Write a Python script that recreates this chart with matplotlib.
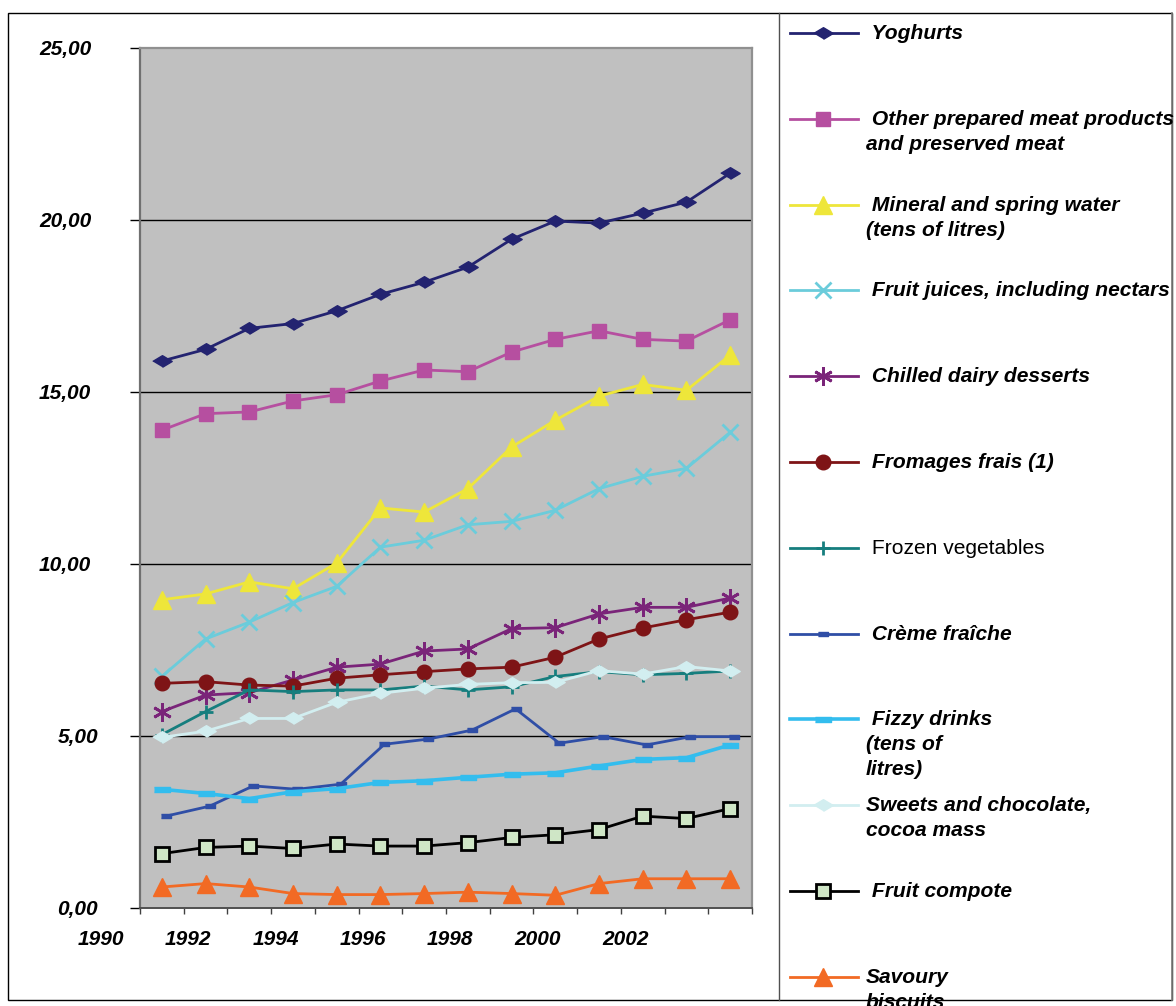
import matplotlib
matplotlib.use("Agg")
import matplotlib.pyplot as plt
from matplotlib.lines import Line2D
from matplotlib.patches import Rectangle
import matplotlib.transforms as mtransforms

# Data (14 yearly points, 1991-2004)
years = list(range(1991, 2005))
year_labels = ['1990', '1992', '1994', '1996', '1998', '2000', '2002']
y_ticks = [0, 5, 10, 15, 20, 25]
y_tick_labels = ['0,00', '5,00', '10,00', '15,00', '20,00', '25,00']

yoghurts = [15.90, 16.24, 16.85, 16.99, 17.36, 17.84, 18.19, 18.63, 19.44, 19.97, 19.91, 20.20, 20.52, 21.36]
meat = [13.89, 14.37, 14.42, 14.74, 14.92, 15.32, 15.64, 15.59, 16.16, 16.53, 16.78, 16.53, 16.48, 17.10]
water = [8.96, 9.13, 9.48, 9.28, 10.03, 11.63, 11.51, 12.19, 13.40, 14.18, 14.88, 15.22, 15.05, 16.07]
juices = [6.73, 7.82, 8.31, 8.88, 9.35, 10.49, 10.69, 11.14, 11.24, 11.56, 12.19, 12.55, 12.78, 13.83]
chilled = [5.71, 6.19, 6.26, 6.63, 7.00, 7.09, 7.47, 7.53, 8.12, 8.15, 8.55, 8.74, 8.74, 9.01]
fromages = [6.53, 6.58, 6.48, 6.45, 6.68, 6.78, 6.87, 6.95, 7.00, 7.29, 7.82, 8.14, 8.38, 8.60]
frozen = [5.04, 5.71, 6.34, 6.29, 6.34, 6.34, 6.45, 6.34, 6.43, 6.73, 6.87, 6.78, 6.82, 6.89]
creme = [2.67, 2.96, 3.55, 3.45, 3.60, 4.76, 4.91, 5.17, 5.79, 4.79, 4.98, 4.74, 4.98, 4.98]
fizzy = [3.45, 3.33, 3.18, 3.38, 3.47, 3.65, 3.70, 3.80, 3.89, 3.93, 4.13, 4.32, 4.37, 4.74]
sweets = [4.96, 5.14, 5.51, 5.51, 5.98, 6.24, 6.39, 6.50, 6.55, 6.56, 6.90, 6.80, 7.02, 6.89]
compote = [1.58, 1.76, 1.80, 1.73, 1.86, 1.80, 1.80, 1.90, 2.05, 2.13, 2.28, 2.67, 2.60, 2.89]
savoury = [0.61, 0.71, 0.61, 0.42, 0.39, 0.39, 0.42, 0.46, 0.42, 0.37, 0.71, 0.85, 0.85, 0.85]

labels = [" Yoghurts",
          " Other prepared meat products\nand preserved meat",
          " Mineral and spring water\n(tens of litres)",
          " Fruit juices, including nectars",
          " Chilled dairy desserts",
          " Fromages frais (1)",
          " Frozen vegetables",
          " Crème fraîche",
          " Fizzy drinks\n(tens of\nlitres)",
          "Sweets and chocolate,\ncocoa mass",
          " Fruit compote",
          "Savoury\nbiscuits"]

wide_diamond = [(-1, 0), (0, 0.6), (1, 0), (0, -0.6)]
small_bar = [(-1, -0.45), (1, -0.45), (1, 0.45), (-1, 0.45)]
long_bar = [(-1, -0.3), (1, -0.3), (1, 0.3), (-1, 0.3)]

styles = [
    dict(color='#232370', marker=wide_diamond, ms=14),
    dict(color='#B64FA0', marker='s', ms=10.5),
    dict(color='#EEE63A', marker='^', ms=12.5),
    dict(color='#6BCCDB', marker='x', ms=12, mew=2),
    dict(color='#7A2479', marker=(6, 2, 0), ms=13.5, mew=2),
    dict(color='#7E1416', marker='o', ms=10.5),
    dict(color='#167E7E', marker='+', ms=10, mew=2),
    dict(color='#2F4EA6', marker=small_bar, ms=7),
    dict(color='#33BDEE', marker=long_bar, ms=12, lw=2.6),
    dict(color='#D2EEF0', marker=wide_diamond, ms=14),
    dict(color='black', marker='s', ms=10, mew=2, mfc='#CFE6C6', mec='black'),
    dict(color='#F26A24', marker='^', ms=12.5),
]
series = [yoghurts, meat, water, juices, chilled, fromages, frozen, creme,
          fizzy, sweets, compote, savoury]

W, H = 1176, 1006
fig = plt.figure(figsize=(W / 100, H / 100), dpi=100)
plt.rcParams['font.family'] = ['Liberation Sans', 'DejaVu Sans']

def fx(px):
    return px / W

def fy(py):
    return 1 - py / H

ax = fig.add_axes([fx(140), fy(908), fx(752) - fx(140), fy(48) - fy(908)])
ax.set_facecolor('#C0C0C0')

x = list(range(len(years)))
for i, (vals, st) in enumerate(zip(series, styles)):
    st = dict(st)
    lw = st.pop('lw', 2.0)
    tr = ax.transData
    if i == 7:
        # Crème fraîche is drawn slightly to the right in the original
        tr = ax.transData + mtransforms.ScaledTranslation(4 / 100, 0, fig.dpi_scale_trans)
    ax.plot(x, vals, lw=lw, transform=tr, clip_on=False, zorder=3, **st)

ax.set_xlim(-0.5, len(years) - 0.5)
ax.set_ylim(0, 25)
for v in [5, 10, 15, 20]:
    ax.axhline(v, color='black', lw=1, zorder=1)

ax.set_yticks(y_ticks)
ax.set_yticklabels(y_tick_labels, fontsize=15, fontweight='bold', fontstyle='italic')
ax.tick_params(axis='y', length=7.2, width=1, direction='out', pad=28)
for lab in ax.get_yticklabels():
    if len(lab.get_text()) == 4:
        lab.set_transform(lab.get_transform() +
                          mtransforms.ScaledTranslation(7 / 100, 0, fig.dpi_scale_trans))
ax.set_xticks([k - 0.5 for k in range(len(years) + 1)])
ax.set_xticklabels([])
ax.tick_params(axis='x', length=4.5, width=1, direction='out', color='#404040')

bt = mtransforms.blended_transform_factory(ax.transData, ax.transAxes)
for j, lab in enumerate(year_labels):
    ax.text(2 * j - 1.4, -0.037, lab, transform=bt, ha='center', va='center',
            fontsize=15, fontweight='bold', fontstyle='italic', clip_on=False)

ax.spines['left'].set_color('#707070')
ax.spines['left'].set_linewidth(1.6)
ax.spines['top'].set_color('#909090')
ax.spines['top'].set_linewidth(1.6)
ax.spines['right'].set_color('#909090')
ax.spines['right'].set_linewidth(1.6)
ax.spines['bottom'].set_color('#505050')
ax.spines['bottom'].set_linewidth(1.4)

# Outer chart border and legend box
fig.add_artist(Rectangle((fx(8), fy(1000)), fx(1172) - fx(8), fy(13) - fy(1000),
                         transform=fig.transFigure, fill=False, ec='black', lw=1))
fig.add_artist(Line2D([fx(779), fx(779)], [fy(13), fy(1000)], transform=fig.transFigure,
                      color='#505050', lw=1))
fig.add_artist(Line2D([fx(1172), fx(1172)], [fy(13), fy(1000)], transform=fig.transFigure,
                      color='#808080', lw=1.2))

# Manual legend
for i, (lab, st) in enumerate(zip(labels, styles)):
    st = dict(st)
    lw = st.pop('lw', 2.0)
    yy = 33 + 85.8 * i
    fig.add_artist(Line2D([fx(790), fx(823), fx(858)], [fy(yy)] * 3, transform=fig.transFigure,
                          markevery=[1], lw=lw, **st))
    normal = (i == 6)
    for k, line in enumerate(lab.split('\n')):
        fig.text(fx(866), fy(yy + 6 + 25 * k), line, ha='left', va='baseline', fontsize=15.1,
                 fontweight='normal' if normal else 'bold',
                 fontstyle='normal' if normal else 'italic')

fig.savefig('out.png', dpi=100)
